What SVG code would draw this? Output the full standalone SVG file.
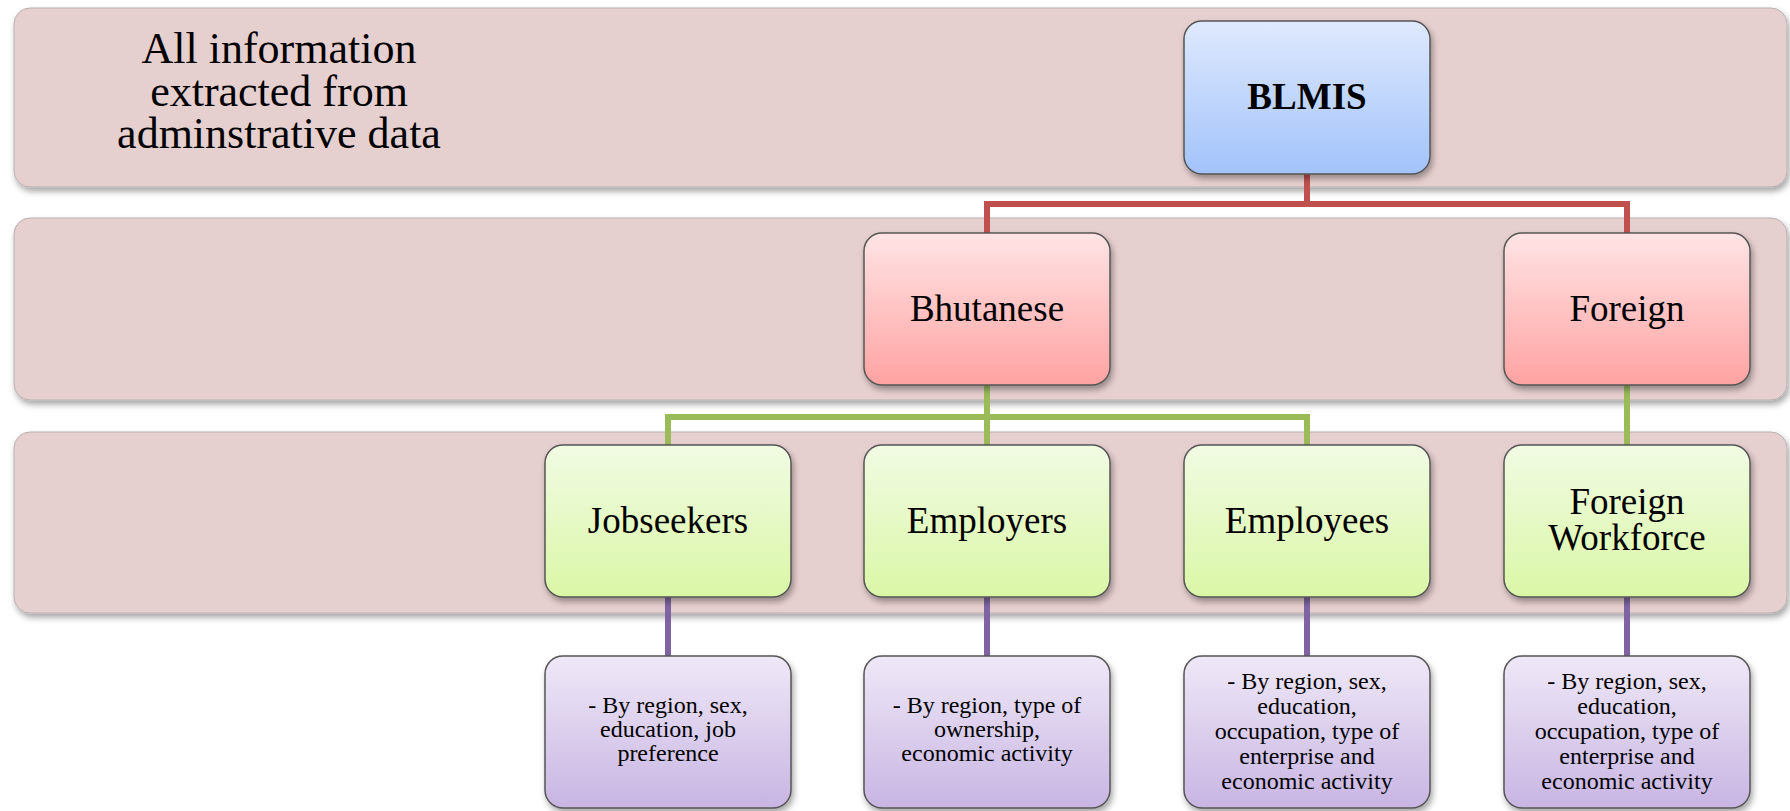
<svg xmlns="http://www.w3.org/2000/svg" width="1790" height="811" viewBox="0 0 1790 811">
<defs>
<linearGradient id="gBlue" x1="0" y1="0" x2="0" y2="1"><stop offset="0" stop-color="#dfe9fd"/><stop offset="1" stop-color="#a2c3fb"/></linearGradient>
<linearGradient id="gRed" x1="0" y1="0" x2="0" y2="1"><stop offset="0" stop-color="#ffe4e5"/><stop offset="1" stop-color="#ffa3a2"/></linearGradient>
<linearGradient id="gGreen" x1="0" y1="0" x2="0" y2="1"><stop offset="0" stop-color="#f1fbe3"/><stop offset="1" stop-color="#daf7a6"/></linearGradient>
<linearGradient id="gPurple" x1="0" y1="0" x2="0" y2="1"><stop offset="0" stop-color="#efe8f7"/><stop offset="1" stop-color="#c8b5e3"/></linearGradient>
<filter id="sh" x="-10%" y="-10%" width="130%" height="130%"><feDropShadow dx="2" dy="4" stdDeviation="3" flood-color="#000" flood-opacity="0.35"/></filter>
</defs>
<style>
.band{fill:#e6cfcf;stroke:#b9b0b0;stroke-width:1;filter:url(#sh)}
.box{stroke:#555;stroke-width:1.5;filter:url(#sh)}
.t{font-family:"Liberation Serif","Times New Roman",serif;fill:#000;text-anchor:middle}
.big{font-size:44px}
.lbl{font-size:37px}
.sm{font-size:24px}
.con{fill:none;stroke-width:6}
</style>
<rect width="1790" height="811" fill="#fff"/>
<g id="bands">
<rect class="band" x="14" y="8" width="1773" height="179" rx="16"/>
<rect class="band" x="14" y="218" width="1773" height="182" rx="16"/>
<rect class="band" x="14" y="432" width="1773" height="181" rx="16"/>
</g>
<g id="title">
<text class="t big" x="279" y="63">All information</text>
<text class="t big" x="279" y="106">extracted from</text>
<text class="t big" x="279" y="148">adminstrative data</text>
</g>
<g id="connectors">
<path class="con" stroke="#c0504d" d="M1307 174 V204 M987 233 V204 H1627 V233"/>
<path class="con" stroke="#9bbb59" d="M987 385 V445 M668 445 V417 H1307 V445 M1627 385 V445"/>
<path class="con" stroke="#8064a2" d="M668 597 V656 M987 597 V656 M1307 597 V656 M1627 597 V656"/>
</g>
<g id="blmis"><rect class="box" x="1184" y="21" width="246" height="153" rx="18" fill="url(#gBlue)"/><text class="t lbl" x="1307" y="109" font-weight="bold">BLMIS</text></g>
<g id="bhutanese"><rect class="box" x="864" y="233" width="246" height="152" rx="18" fill="url(#gRed)"/><text class="t lbl" x="987" y="321">Bhutanese</text></g>
<g id="foreign"><rect class="box" x="1504" y="233" width="246" height="152" rx="18" fill="url(#gRed)"/><text class="t lbl" x="1627" y="321">Foreign</text></g>
<g id="jobseekers"><rect class="box" x="545" y="445" width="246" height="152" rx="18" fill="url(#gGreen)"/><text class="t lbl" x="668" y="533">Jobseekers</text></g>
<g id="employers"><rect class="box" x="864" y="445" width="246" height="152" rx="18" fill="url(#gGreen)"/><text class="t lbl" x="987" y="533">Employers</text></g>
<g id="employees"><rect class="box" x="1184" y="445" width="246" height="152" rx="18" fill="url(#gGreen)"/><text class="t lbl" x="1307" y="533">Employees</text></g>
<g id="foreign-workforce"><rect class="box" x="1504" y="445" width="246" height="152" rx="18" fill="url(#gGreen)"/><text class="t lbl" x="1627" y="514">Foreign</text><text class="t lbl" x="1627" y="550">Workforce</text></g>
<g id="d-jobseekers"><rect class="box" x="545" y="656" width="246" height="152" rx="18" fill="url(#gPurple)"/><text class="t sm" x="668" y="713">- By region, sex,</text><text class="t sm" x="668" y="737">education, job</text><text class="t sm" x="668" y="761">preference</text></g>
<g id="d-employers"><rect class="box" x="864" y="656" width="246" height="152" rx="18" fill="url(#gPurple)"/><text class="t sm" x="987" y="713">- By region, type of</text><text class="t sm" x="987" y="737">ownership,</text><text class="t sm" x="987" y="761">economic activity</text></g>
<g id="d-employees"><rect class="box" x="1184" y="656" width="246" height="152" rx="18" fill="url(#gPurple)"/><text class="t sm" x="1307" y="689">- By region, sex,</text><text class="t sm" x="1307" y="714">education,</text><text class="t sm" x="1307" y="739">occupation, type of</text><text class="t sm" x="1307" y="764">enterprise and</text><text class="t sm" x="1307" y="789">economic activity</text></g>
<g id="d-foreign"><rect class="box" x="1504" y="656" width="246" height="152" rx="18" fill="url(#gPurple)"/><text class="t sm" x="1627" y="689">- By region, sex,</text><text class="t sm" x="1627" y="714">education,</text><text class="t sm" x="1627" y="739">occupation, type of</text><text class="t sm" x="1627" y="764">enterprise and</text><text class="t sm" x="1627" y="789">economic activity</text></g>
</svg>
